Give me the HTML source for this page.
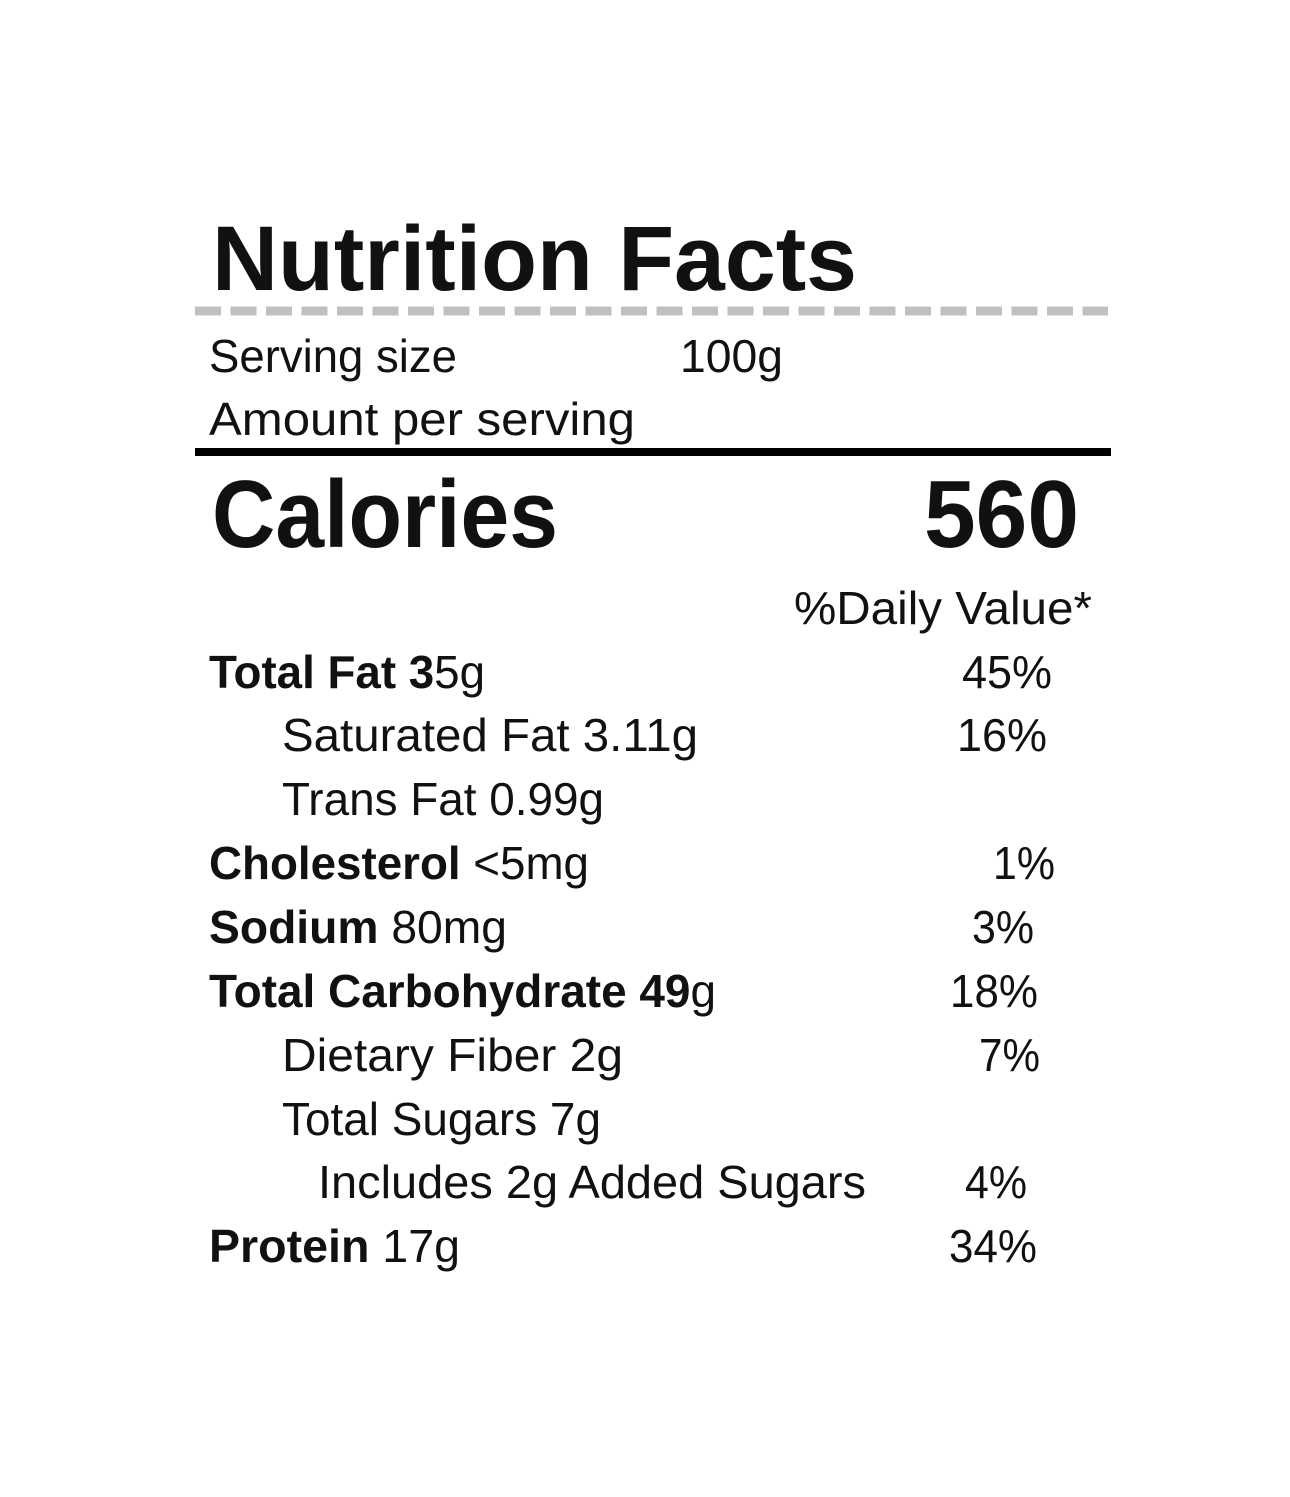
<!DOCTYPE html>
<html><head><meta charset="utf-8"><style>
html,body{margin:0;padding:0;background:#fff;}
svg{display:block;}
text{font-family:"Liberation Sans",sans-serif;fill:#111;}
.b{font-weight:bold;}
</style></head><body>
<svg width="1290" height="1497" viewBox="0 0 1290 1497" xmlns="http://www.w3.org/2000/svg">
<rect width="1290" height="1497" fill="#fff"/>
<text x="212" y="290" font-size="92" class="b" textLength="645" lengthAdjust="spacingAndGlyphs">Nutrition Facts</text>
<line x1="195" y1="311" x2="1108" y2="311" stroke="#c0c0c0" stroke-width="9" stroke-dasharray="26 9.5"/>
<text x="209" y="372" font-size="46" textLength="248" lengthAdjust="spacingAndGlyphs">Serving size</text>
<text x="680" y="372" font-size="46" textLength="103" lengthAdjust="spacingAndGlyphs">100g</text>
<text x="209" y="435" font-size="46" textLength="426" lengthAdjust="spacingAndGlyphs">Amount per serving</text>
<rect x="195" y="448" width="916" height="8" fill="#000"/>
<text x="212" y="547" font-size="96" class="b" textLength="346" lengthAdjust="spacingAndGlyphs">Calories</text>
<text x="924" y="547" font-size="96" class="b" textLength="155" lengthAdjust="spacingAndGlyphs">560</text>
<text x="794" y="624" font-size="46" textLength="298" lengthAdjust="spacingAndGlyphs">%Daily Value*</text>

<text x="209" y="688" font-size="46" textLength="276" lengthAdjust="spacingAndGlyphs"><tspan class="b">Total Fat 3</tspan>5g</text>
<text x="962" y="688" font-size="46" textLength="90" lengthAdjust="spacingAndGlyphs">45%</text>
<text x="282" y="751" font-size="46" textLength="416" lengthAdjust="spacingAndGlyphs">Saturated Fat 3.11g</text>
<text x="957" y="751" font-size="46" textLength="90" lengthAdjust="spacingAndGlyphs">16%</text>
<text x="282" y="815" font-size="46" textLength="322" lengthAdjust="spacingAndGlyphs">Trans Fat 0.99g</text>
<text x="209" y="879" font-size="46" textLength="380" lengthAdjust="spacingAndGlyphs"><tspan class="b">Cholesterol</tspan> &lt;5mg</text>
<text x="993" y="879" font-size="46" textLength="62" lengthAdjust="spacingAndGlyphs">1%</text>
<text x="209" y="943" font-size="46" textLength="298" lengthAdjust="spacingAndGlyphs"><tspan class="b">Sodium</tspan> 80mg</text>
<text x="972" y="943" font-size="46" textLength="62" lengthAdjust="spacingAndGlyphs">3%</text>
<text x="209" y="1007" font-size="46" textLength="507" lengthAdjust="spacingAndGlyphs"><tspan class="b">Total Carbohydrate 49</tspan>g</text>
<text x="950" y="1007" font-size="46" textLength="88" lengthAdjust="spacingAndGlyphs">18%</text>
<text x="282" y="1071" font-size="46" textLength="341" lengthAdjust="spacingAndGlyphs">Dietary Fiber 2g</text>
<text x="979" y="1071" font-size="46" textLength="61" lengthAdjust="spacingAndGlyphs">7%</text>
<text x="282" y="1135" font-size="46" textLength="319" lengthAdjust="spacingAndGlyphs">Total Sugars 7g</text>
<text x="318" y="1198" font-size="46" textLength="548" lengthAdjust="spacingAndGlyphs">Includes 2g Added Sugars</text>
<text x="965" y="1198" font-size="46" textLength="62" lengthAdjust="spacingAndGlyphs">4%</text>
<text x="209" y="1262" font-size="46" textLength="251" lengthAdjust="spacingAndGlyphs"><tspan class="b">Protein</tspan> 17g</text>
<text x="949" y="1262" font-size="46" textLength="88" lengthAdjust="spacingAndGlyphs">34%</text>
</svg>
</body></html>
